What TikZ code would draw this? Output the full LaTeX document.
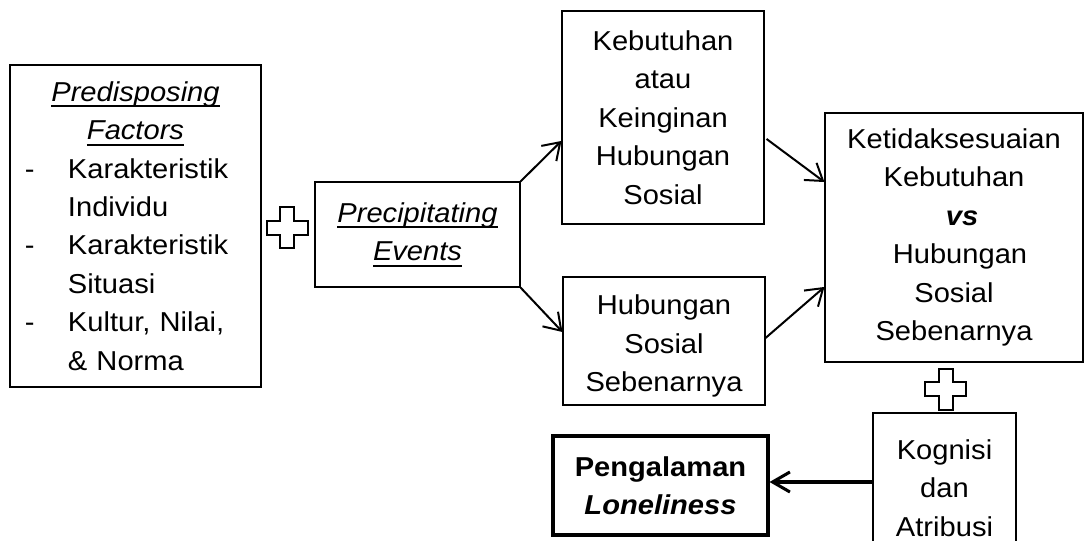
\documentclass[tikz,border=0pt]{standalone}
\usepackage{fontspec}
\setmainfont[FakeStretch=1.065]{Liberation Sans}
\usetikzlibrary{arrows.meta}
\newcommand\dfont{\fontsize{20.5}{28.8}\selectfont}
\newsavebox\ulbox
\newcommand\uln[1]{\sbox\ulbox{#1}\rlap{\rule[-4.5pt]{\wd\ulbox}{1.4pt}}\usebox\ulbox}
\begin{document}
\begin{tikzpicture}[x=0.75pt,y=-0.75pt,
  box/.style={draw=black, line width=0.8pt, inner sep=0pt, align=center, font=\dfont},
  conn/.style={line width=1.5pt, -{Straight Barb[length=12pt,width=16pt,line width=1.5pt]}},
  thickconn/.style={line width=2.3pt, -{Straight Barb[length=13pt,width=15pt,line width=2.3pt]}},
  plussign/.pic={\draw[line width=1.5pt] (-7,-20.5) -- (7,-20.5) -- (7,-7) -- (20.5,-7) -- (20.5,7) -- (7,7) -- (7,20.5) -- (-7,20.5) -- (-7,7) -- (-20.5,7) -- (-20.5,-7) -- (-7,-7) -- cycle;}]
\useasboundingbox (0,0) rectangle (1086,541);

\node[box, minimum width=188.25pt, minimum height=241.5pt, text width=173.25pt, align=left] (pf) at (135.5,226)
  {\makebox[173.25pt]{\uln{\textit{Predisposing}}}\\
   \makebox[173.25pt]{\uln{\textit{Factors}}}\\
   \makebox[36pt][l]{\hspace{3.75pt}-}Karakteristik\\
   \hspace*{36pt}Individu\\
   \makebox[36pt][l]{\hspace{3.75pt}-}Karakteristik\\
   \hspace*{36pt}Situasi\\
   \makebox[36pt][l]{\hspace{3.75pt}-}Kultur, Nilai,\\
   \hspace*{36pt}\& Norma};

\node[box, minimum width=153.75pt, minimum height=78.75pt] (pe) at (417.5,234.5)
  {\uln{\textit{Precipitating}}\\\uln{\textit{Events}}};

\node[box, minimum width=151.5pt, minimum height=159.75pt] (keb) at (663,117.5)
  {Kebutuhan\\atau\\Keinginan\\Hubungan\\Sosial};

\node[box, minimum width=151.5pt, minimum height=96pt] (hub) at (664,341)
  {\rule{0pt}{22.5pt}Hubungan\\Sosial\\Sebenarnya};

\node[box, minimum width=193.5pt, minimum height=186.75pt] (rb) at (954,237.5)
  {Ketidaksesuaian\\Kebutuhan\\\hspace*{12pt}\textbf{\textit{vs}}\\\hspace*{9pt}Hubungan\\Sosial\\Sebenarnya};

\node[box, minimum width=107.25pt, minimum height=112.5pt] (kog) at (944.5,488)
  {Kognisi\\dan\\Atribusi};

\node[box, line width=2.3pt, minimum width=161.25pt, minimum height=74.25pt] (pl) at (660.5,485.5)
  {\textbf{Pengalaman}\\\textbf{\textit{Loneliness}}};

\pic at (287,228) {plussign};
\pic at (945.5,389.5) {plussign};

\draw[conn] (pe.north east) -- ([yshift=-17.6pt]keb.west);
\draw[conn] (pe.south east) -- ([yshift=6.75pt]hub.west);
\draw[conn] ([xshift=1.5pt,yshift=-16.1pt]keb.east) -- ([yshift=41.6pt]rb.west);
\draw[conn] ([yshift=2.25pt]hub.east) -- ([yshift=-37.1pt]rb.west);
\draw[thickconn] ([yshift=4.5pt]kog.west) -- ([yshift=4.5pt]kog.west -| pl.east);
\end{tikzpicture}
\end{document}
